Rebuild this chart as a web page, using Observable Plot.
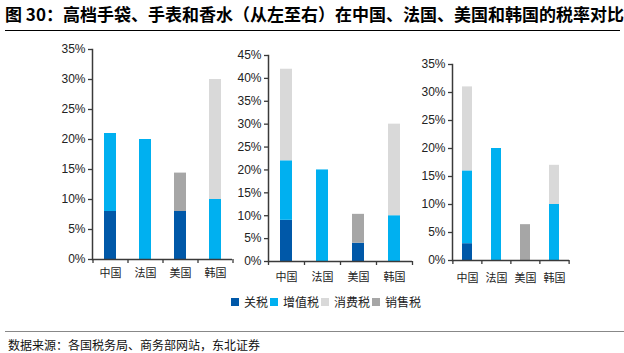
<!DOCTYPE html>
<html><head><meta charset="utf-8">
<script src="https://cdn.jsdelivr.net/npm/d3@7"></script>
<script src="https://cdn.jsdelivr.net/npm/@observablehq/plot@0.6"></script>
<style>
body{margin:0;background:#fff;width:624px;height:353px;overflow:hidden;position:relative;font-family:"Noto Sans CJK SC",sans-serif;color:#000;}
#title{position:absolute;left:5px;top:3px;font-size:17px;font-weight:bold;white-space:nowrap;line-height:22px;}
#tline{position:absolute;left:5px;top:30px;width:615px;height:0;border-top:1.3px solid #000;}
.panel{position:absolute;}
#legend{position:absolute;left:231px;top:293px;display:flex;align-items:center;font-size:12px;line-height:18px;white-space:nowrap;color:#222;}
#legend .sw{width:8px;height:8px;display:inline-block;margin-right:5px;}
#legend .it{display:flex;align-items:center;margin-right:2px;}
#fline{position:absolute;left:5px;top:331px;width:619px;height:0;border-top:1.3px solid #888;}
#source{position:absolute;left:8px;top:336px;font-size:12px;line-height:18px;white-space:nowrap;color:#111;}
</style></head>
<body>
<div id="title">图 30：高档手袋、手表和香水（从左至右）在中国、法国、美国和韩国的税率对比</div>
<div id="tline"></div>
<div id="p1" class="panel"></div>
<div id="p2" class="panel"></div>
<div id="p3" class="panel"></div>
<div id="legend"></div>
<div id="fline"></div>
<div id="source">数据来源：各国税务局、商务部网站，东北证券</div>
<script>
const countries = ["中国", "法国", "美国", "韩国"];
const taxTypes = ["关税", "增值税", "消费税", "销售税"];
const taxColors = ["#0058A8", "#00B0F0", "#D9D9D9", "#A6A6A6"];

// Panel 1: 高档手袋
const bagTariff = [8, 0, 8, 0];
const bagVAT = [13, 20, 0, 10];
const bagConsumption = [0, 0, 0, 20];
const bagSales = [0, 0, 6.4, 0];
// Panel 2: 手表
const watchTariff = [9, 0, 4, 0];
const watchVAT = [13, 20, 0, 10];
const watchConsumption = [20, 0, 0, 20];
const watchSales = [0, 0, 6.3, 0];
// Panel 3: 香水
const perfumeTariff = [3, 0, 0, 0];
const perfumeVAT = [13, 20, 0, 10];
const perfumeConsumption = [15, 0, 0, 7];
const perfumeSales = [0, 0, 6.4, 0];

const ticks35 = [0, 5, 10, 15, 20, 25, 30, 35];
const ticks45 = [0, 5, 10, 15, 20, 25, 30, 35, 40, 45];

const axisColor = "#3a3a3a";

function rowsOf(series) {
  const rows = [];
  taxTypes.forEach((t, j) => countries.forEach((c, i) => rows.push({country: c, type: t, value: series[j][i]})));
  return rows;
}

function panel(el, series, yTicks, o) {
  const rows = rowsOf(series);
  const step = (o.width - o.ml - o.mr) / countries.length;
  const plot = Plot.plot({
    width: o.width, height: o.height,
    marginLeft: o.ml, marginRight: o.mr, marginTop: o.mt, marginBottom: o.mb,
    x: {domain: countries, paddingInner: 0.67, paddingOuter: 0.335, axis: null, label: null},
    y: {domain: [0, yTicks[yTicks.length - 1]], axis: null, label: null},
    color: {domain: taxTypes, range: taxColors},
    style: {fontFamily: "'Liberation Sans', Arial, sans-serif", background: "transparent", color: "#222", overflow: "visible"},
    marks: [
      Plot.barY(rows, {x: "country", y: "value", fill: "type", order: taxTypes}),
      Plot.axisY({ticks: yTicks, tickFormat: d => d + "%", tickSize: 4, tickPadding: 3, fontSize: 12, stroke: axisColor, strokeWidth: 1.3, label: null}),
      Plot.axisX({tickSize: 0, tickPadding: o.lp, fontSize: 11, fontFamily: "'Noto Sans CJK SC', sans-serif", label: null}),
      Plot.frame({anchor: "left", stroke: axisColor, strokeWidth: 1.5}),
      Plot.ruleY([0], {stroke: axisColor, strokeWidth: 1.5}),
      Plot.ruleX(countries, {x: d => d, y1: 0, y2: 0, insetBottom: -4, dx: -step / 2, stroke: axisColor, strokeWidth: 1.3}),
      Plot.ruleX([countries[countries.length - 1]], {x: d => d, y1: 0, y2: 0, insetBottom: -4, dx: step / 2, stroke: axisColor, strokeWidth: 1.3})
    ]
  });
  const div = document.getElementById(el);
  div.style.left = o.left + "px";
  div.style.top = o.top + "px";
  div.appendChild(plot);
}

panel("p1", [bagTariff, bagVAT, bagConsumption, bagSales], ticks35,
  {left: 50, top: 40, width: 190, height: 240, ml: 42, mr: 8, mt: 9, mb: 21, lp: 10});
panel("p2", [watchTariff, watchVAT, watchConsumption, watchSales], ticks45,
  {left: 230, top: 40, width: 190, height: 240, ml: 38, mr: 8, mt: 15, mb: 19, lp: 12});
panel("p3", [perfumeTariff, perfumeVAT, perfumeConsumption, perfumeSales], ticks35,
  {left: 410, top: 50, width: 170, height: 240, ml: 42, mr: 11, mt: 14, mb: 30, lp: 14});

const legend = document.getElementById("legend");
taxTypes.forEach((t, i) => {
  const it = document.createElement("span");
  it.className = "it";
  const sw = document.createElement("span");
  sw.className = "sw";
  sw.style.background = taxColors[i];
  it.appendChild(sw);
  it.appendChild(document.createTextNode(t));
  legend.appendChild(it);
});
</script>
</body></html>
